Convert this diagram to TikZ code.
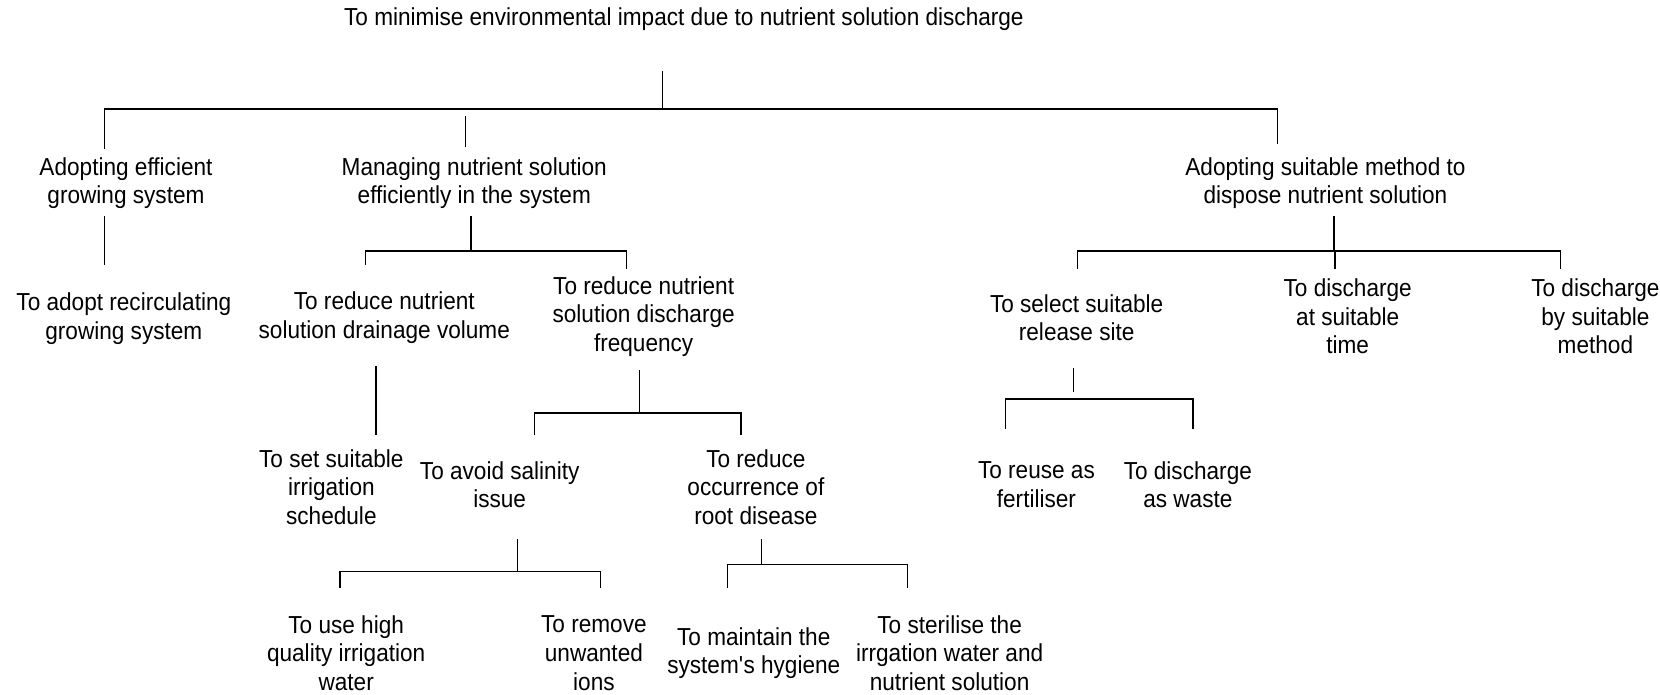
\documentclass[tikz,border=0pt]{standalone}
\usepackage{fontspec}
\setmainfont{Liberation Sans}[FakeStretch=0.92]
\begin{document}
\begin{tikzpicture}[x=0.025cm,y=-0.025cm,
  goal/.style={align=center,inner sep=0pt,font=\fontsize{16.5}{19.2}\selectfont},
  link/.style={line width=0.9pt,line cap=rect}]
\useasboundingbox (0,0) rectangle (1568,656);

% goals and sub-goals
\node[goal] (top) at (646,18) {To minimise environmental impact due to nutrient solution discharge};
\node[goal] (a) at (119,173) {Adopting efficient\\growing system};
\node[goal] (b) at (448,173) {Managing nutrient solution\\efficiently in the system};
\node[goal] (c) at (1252,173) {Adopting suitable method to\\dispose nutrient solution};
\node[goal] (a1) at (117,301) {To adopt recirculating\\growing system};
\node[goal] (b1) at (363,300) {To reduce nutrient\\solution drainage volume};
\node[goal] (b2) at (608,299) {To reduce nutrient\\solution discharge\\frequency};
\node[goal] (b11) at (313,460) {To set suitable\\irrigation\\schedule};
\node[goal] (b21) at (472,458) {To avoid salinity\\issue};
\node[goal] (b22) at (714,460) {To reduce\\occurrence of\\root disease};
\node[goal] (b211) at (327,617) {To use high\\quality irrigation\\water};
\node[goal] (b212) at (561,617) {To remove\\unwanted\\ions};
\node[goal] (b221) at (712,617) {To maintain the\\system\textquotesingle s hygiene};
\node[goal] (b222) at (897,617) {To sterilise the\\irrgation water and\\nutrient solution};
\node[goal] (c1) at (1017,300) {To select suitable\\release site};
\node[goal] (c2) at (1273,299) {To discharge\\at suitable\\time};
\node[goal] (c3) at (1507,299) {To discharge\\by suitable\\method};
\node[goal] (c11) at (979,458) {To reuse as\\fertiliser};
\node[goal] (c12) at (1122,458) {To discharge\\as waste};

% branch points
\path (626,68) coordinate (t0) (626,103) coordinate (t1)
      (99,103) coordinate (tl) (1207,103) coordinate (tr)
      (99,140) coordinate (ta) (440,110) coordinate (tb0) (440,138) coordinate (tb) (1207,135) coordinate (tc)
      (99,205) coordinate (a0) (99,250) coordinate (a9)
      (445,205) coordinate (b0) (445,237) coordinate (bm)
      (345,237) coordinate (bl) (592,237) coordinate (br)
      (345,250) coordinate (bl9) (592,253) coordinate (br9)
      (355,346) coordinate (p0) (355,410) coordinate (p9)
      (604,350) coordinate (q0) (604,390) coordinate (qm)
      (505,390) coordinate (ql) (700,390) coordinate (qr)
      (505,410) coordinate (ql9) (700,410) coordinate (qr9)
      (489,510) coordinate (s0) (489,540) coordinate (sm)
      (321,540) coordinate (sl) (567,540) coordinate (sr)
      (321,555) coordinate (sl9) (567,555) coordinate (sr9)
      (719,510) coordinate (d0) (719,533) coordinate (dm)
      (687,533) coordinate (dl) (857,533) coordinate (dr)
      (687,555) coordinate (dl9) (857,555) coordinate (dr9)
      (1260,205) coordinate (c0) (1260,237) coordinate (cm)
      (1018,237) coordinate (cl) (1474,237) coordinate (cr)
      (1018,253) coordinate (cl9) (1261,237) coordinate (cc) (1261,253) coordinate (cc9) (1474,253) coordinate (cr9)
      (1014,348) coordinate (e0) (1014,370) coordinate (em)
      (950,377) coordinate (el) (1127,377) coordinate (er)
      (950,405) coordinate (el9) (1127,405) coordinate (er9);

% connectors
\draw[link] (t0) -- (t1) (tl) -- (tr) (tl) -- (ta) (tb0) -- (tb) (tr) -- (tc);
\draw[link] (a0) -- (a9);
\draw[link] (b0) -- (bm) (bl) -- (br) (bl) -- (bl9) (br) -- (br9);
\draw[link] (p0) -- (p9);
\draw[link] (q0) -- (qm) (ql) -- (qr) (ql) -- (ql9) (qr) -- (qr9);
\draw[link] (s0) -- (sm) (sl) -- (sr) (sl) -- (sl9) (sr) -- (sr9);
\draw[link] (d0) -- (dm) (dl) -- (dr) (dl) -- (dl9) (dr) -- (dr9);
\draw[link] (c0) -- (cm) (cl) -- (cr) (cl) -- (cl9) (cc) -- (cc9) (cr) -- (cr9);
\draw[link] (e0) -- (em) (el) -- (er) (el) -- (el9) (er) -- (er9);
\end{tikzpicture}
\end{document}
